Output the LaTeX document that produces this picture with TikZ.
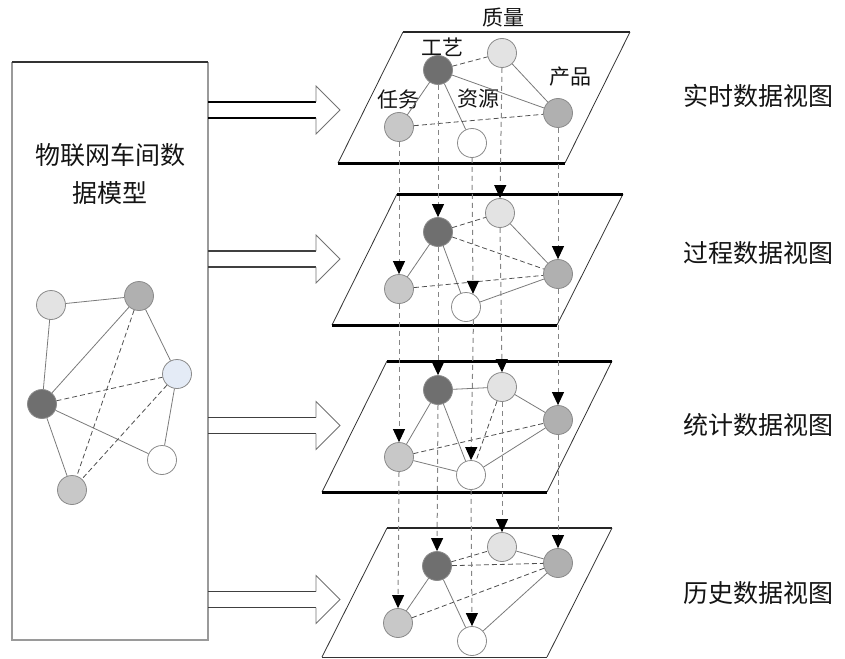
\documentclass[tikz,border=0pt]{standalone}
\usepackage{fontspec}
\newfontfamily\cjk{Noto Sans CJK SC}
\usetikzlibrary{arrows.meta}
\definecolor{ndark}{HTML}{6F6F6F}
\definecolor{nlight}{HTML}{E3E3E3}
\definecolor{nprod}{HTML}{B0B0B0}
\definecolor{ntask}{HTML}{C8C8C8}
\definecolor{nblue}{HTML}{E4EBF6}
\definecolor{ncirc}{HTML}{8A8A8A}
\definecolor{edgeg}{HTML}{7A7A7A}
\definecolor{dashg}{HTML}{4F4F4F}
\definecolor{vgray}{HTML}{858585}
\definecolor{txt}{HTML}{141414}
\definecolor{boxg}{HTML}{9A9A9A}
\begin{document}
\begin{tikzpicture}[x=1pt,y=-1pt,
  nd/.style={circle, draw=ncirc, line width=0.8pt, minimum size=29pt, inner sep=0pt},
  sol/.style={draw=edgeg, line width=0.8pt},
  dsh/.style={draw=dashg, line width=0.8pt, dash pattern=on 5pt off 3pt},
  vline/.style={draw=vgray, line width=1pt, dash pattern=on 5pt off 4pt,
    -{Triangle[width=12pt,length=13pt,black]}},
  lbl/.style={font=\cjk\fontsize{21}{21}\selectfont, text=txt, inner sep=0pt},
  big/.style={font=\cjk\fontsize{25}{25}\selectfont, text=txt, inner sep=0pt},
  side/.style={draw=black!80, line width=0.8pt},
  edgethick/.style={draw=black, line width=3pt},
  edgemid/.style={draw=black!85, line width=2pt},
  shaftthick/.style={draw=black, line width=2.5pt},
  shaftthin/.style={draw=black!75, line width=1.4pt},
  headline/.style={draw=black!55, line width=0.8pt}]
\useasboundingbox (0,0) rectangle (845,658);

% ---------- left box ----------
\draw[draw=boxg, line width=1.2pt] (12,62) -- (12,640) -- (208,640) -- (208,62);
\draw[draw=black!80, line width=2pt] (12,62) -- (208,62);
\node[big] (title1) at (110,155) {物联网车间数};
\node[big] (title2) at (110,193) {据模型};

% left graph
\node[nd, fill=nlight] (la) at (51,305) {};
\node[nd, fill=nprod]  (lb) at (139,296) {};
\node[nd, fill=nblue]  (lc) at (177,374) {};
\node[nd, fill=ndark]  (ld) at (42,404) {};
\node[nd, fill=white]  (le) at (162,460) {};
\node[nd, fill=ntask]  (lf) at (72,490) {};
\draw[sol] (la) -- (lb);
\draw[sol] (la) -- (ld);
\draw[sol] (lb) -- (ld);
\draw[sol] (lb) -- (lc);
\draw[dsh] (lb) -- (lf);
\draw[dsh] (ld) -- (lc);
\draw[sol] (lc) -- (le);
\draw[sol] (ld) -- (le);
\draw[sol] (ld) -- (lf);
\draw[dsh] (lc) -- (lf);

% ---------- block arrows ----------
\foreach \yc/\sty in {110/shaftthick, 259/shaftthin, 425.5/shaftthin, 599.5/shaftthin}{
  \draw[\sty] (208,\yc-8) -- (316,\yc-8);
  \draw[\sty] (208,\yc+8) -- (316,\yc+8);
  \draw[headline, line join=miter] (316,\yc-8) -- (316,\yc-24) -- (340,\yc) -- (316,\yc+24) -- (316,\yc+8);
}

% ---------- planes ----------
% plane 1
\draw[side] (403,32) -- (338,163);
\draw[side] (630,32) -- (565,163);
\draw[edgemid] (403,32) -- (630,32);
\draw[edgethick] (338,163) -- (565,163);
% plane 2
\draw[side] (397,194) -- (332,325);
\draw[side] (623,194) -- (557,325);
\draw[edgethick] (397,194) -- (623,194);
\draw[edgethick] (332,325) -- (557,325);
% plane 3
\draw[side] (387,361) -- (322,492);
\draw[side] (612,361) -- (547,492);
\draw[edgethick] (387,361) -- (612,361);
\draw[edgethick] (322,492) -- (547,492);
% plane 4
\draw[side] (387,528) -- (322,657);
\draw[side] (612,528) -- (547,657);
\draw[edgemid] (387,528) -- (612,528);
\draw[side] (322,657) -- (547,657);

% ---------- plane nodes ----------
% plane 1
\node[nd, fill=ndark]  (a1) at (438,70) {};
\node[nd, fill=nlight] (b1) at (502,53) {};
\node[nd, fill=nprod]  (c1) at (558,113) {};
\node[nd, fill=ntask]  (d1) at (399,127) {};
\node[nd, fill=white]  (e1) at (472,143) {};
% plane 2
\node[nd, fill=ndark]  (a2) at (438,232) {};
\node[nd, fill=nlight] (b2) at (500,213) {};
\node[nd, fill=nprod]  (c2) at (558,274) {};
\node[nd, fill=ntask]  (d2) at (399,289) {};
\node[nd, fill=white]  (e2) at (466,307) {};
% plane 3
\node[nd, fill=ndark]  (a3) at (438,390) {};
\node[nd, fill=nlight] (b3) at (502,387) {};
\node[nd, fill=nprod]  (c3) at (558,420) {};
\node[nd, fill=ntask]  (d3) at (399,457) {};
\node[nd, fill=white]  (e3) at (471,475) {};
% plane 4
\node[nd, fill=ndark]  (a4) at (437,566) {};
\node[nd, fill=nlight] (b4) at (502,547) {};
\node[nd, fill=nprod]  (c4) at (558,563) {};
\node[nd, fill=ntask]  (d4) at (398,623) {};
\node[nd, fill=white]  (e4) at (472,641) {};

% labels plane 1
\node[lbl] (lq) at (503,18) {质量};
\node[lbl] (lg) at (442,47) {工艺};
\node[lbl] (lp) at (570,77) {产品};
\node[lbl] (lr) at (398,100) {任务};
\node[lbl] (ly) at (478,99) {资源};

% edges plane 1
\draw[dsh] (a1) -- (b1);
\draw[sol] (a1) -- (c1);
\draw[sol] (b1) -- (c1);
\draw[sol] (a1) -- (d1);
\draw[sol] (a1) -- (e1);
\draw[dsh] (d1) -- (c1);
% edges plane 2
\draw[dsh] (a2) -- (b2);
\draw[dsh] (a2) -- (c2);
\draw[sol] (b2) -- (c2);
\draw[sol] (a2) -- (d2);
\draw[sol] (a2) -- (e2);
\draw[dsh] (d2) -- (c2);
\draw[sol] (e2) -- (c2);
% edges plane 3
\draw[sol] (a3) -- (b3);
\draw[sol] (b3) -- (c3);
\draw[sol] (a3) -- (e3);
\draw[dsh] (b3) -- (e3);
\draw[dsh] (d3) -- (c3);
\draw[sol] (a3) -- (d3);
\draw[sol] (d3) -- (e3);
\draw[sol] (e3) -- (c3);
% edges plane 4
\draw[dsh] (a4) -- (b4);
\draw[sol] (b4) -- (c4);
\draw[dsh] (a4) -- (c4);
\draw[dsh] (d4) -- (c4);
\draw[sol] (a4) -- (d4);
\draw[sol] (a4) -- (e4);
\draw[sol] (e4) -- (c4);

% ---------- vertical dashed connectors ----------
\draw[vline] (d1.south) -- (d2.north);
\draw[vline] (d2.south) -- (d3.north);
\draw[vline] (d3.south) -- (d4.north);
\draw[vline] (a1.south) -- (a2.north);
\draw[vline] (a2.south) -- (a3.north);
\draw[vline] (a3.south) -- (a4.north);
\draw[vline] (b1.south) -- (b2.north);
\draw[vline] (b2.south) -- (b3.north);
\draw[vline] (b3.south) -- (b4.north);
\draw[vline] (c1.south) -- (c2.north);
\draw[vline] (c2.south) -- (c3.north);
\draw[vline] (c3.south) -- (c4.north);
\draw[vline] (e1.south) -- (e2.62);
\draw[vline] (e2.-60) -- (e3.north);
\draw[vline] (e3.south) -- (e4.north);

% ---------- right labels ----------
\node[big, anchor=west] (v1) at (683,96) {实时数据视图};
\node[big, anchor=west] (v2) at (683,253) {过程数据视图};
\node[big, anchor=west] (v3) at (683,425) {统计数据视图};
\node[big, anchor=west] (v4) at (683,593) {历史数据视图};
\end{tikzpicture}
\end{document}
